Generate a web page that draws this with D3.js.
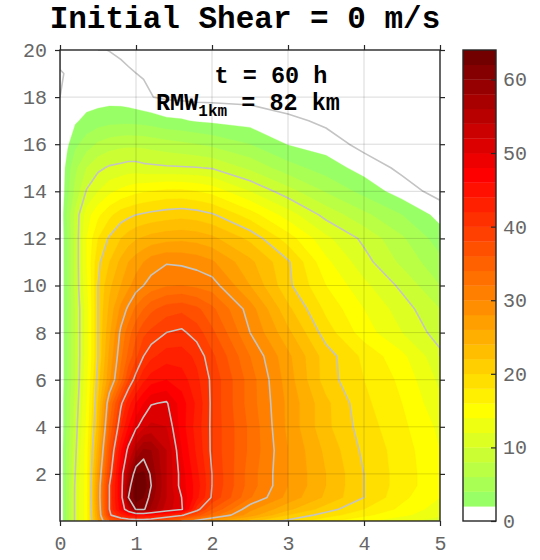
<!DOCTYPE html>
<html>
<head>
<meta charset="utf-8">
<script src="https://cdn.jsdelivr.net/npm/d3@7"></script>
<style>
  html, body { margin: 0; padding: 0; background: #fff; }
  svg { display: block; }
  text { font-family: "Liberation Mono", "Courier New", monospace; }
</style>
</head>
<body>
<div id="chart"></div>
<script>
// 半径节点 (r / RMW)
const radius = [0, 0.1, 0.2, 0.35, 0.5, 0.65, 0.8, 0.9, 1.0, 1.1, 1.2, 1.4, 1.6, 1.8, 2.0, 2.5, 3.0, 3.5, 4.0, 4.5, 5.0];

// 高度节点 (km)
const heightKm = [0, 0.25, 0.5, 1, 1.5, 2, 3, 4, 5, 6, 7, 8, 9, 10, 11, 12, 13, 14, 15, 16, 17, 18, 19, 20];

// 切向风 (m/s)，每行一个高度，按 radius 排列
const windRows = [
    [0, 5, 10.5, 15, 26, 35, 37, 37.5, 38, 38, 37.5, 35, 32, 29, 27, 22.5, 19.5, 16.5, 14.5, 12.5, 11],
    [0, 5, 10.5, 15, 27, 39.5, 43, 45, 46, 46, 45, 43, 40.5, 37, 33, 27, 22, 19, 16.5, 14.5, 12.5],
    [0, 5, 10.5, 15, 27.5, 40, 47, 53, 60.5, 60.5, 57.5, 53, 50.5, 41, 36, 28.5, 24.5, 21, 18, 15.5, 13],
    [0, 5, 10.5, 15, 28, 40, 48, 60, 63, 62, 59, 54, 50, 44.5, 39.7, 32.2, 27.3, 23.6, 20, 16.5, 14],
    [0, 5, 10.4, 15, 27.8, 40, 48, 58.5, 63.5, 63.5, 60, 54, 49, 45, 40, 33, 28, 24, 20, 17, 14.5],
    [0, 5, 10, 15, 27, 38.5, 48, 56, 62, 62.5, 59.5, 54, 49, 44.5, 40, 33, 28, 24, 20, 17, 14.5],
    [0, 5, 9.5, 15, 25, 36.5, 45.5, 51, 55.5, 58.5, 58, 54, 48, 43.5, 39.5, 33.5, 28, 23.5, 19.5, 17, 14],
    [0, 4.5, 9, 14.5, 23, 34, 42, 46, 49.5, 51.5, 52.5, 52, 47, 43, 39.5, 33.5, 27.5, 22.5, 19, 16.5, 13.5],
    [0, 4.5, 8.5, 14, 22, 32, 39.5, 43, 46, 48, 49.8, 50.3, 47, 43.5, 39.5, 33, 27.5, 22.5, 18.5, 16, 12.5],
    [0, 4, 8, 13.5, 21, 27.5, 33, 38, 41, 43.5, 45, 46, 45, 42.5, 39.5, 33, 27, 21, 18, 15.5, 11.5],
    [0, 4, 8, 13, 20, 26.5, 31.5, 34.5, 37.5, 40, 41.5, 43, 43, 41.5, 38.5, 32, 26.5, 21, 17.5, 14.5, 10.5],
    [0, 4, 8, 13, 20, 25.5, 30.5, 33, 35.5, 37.5, 38.5, 40, 40.5, 39, 36.5, 30, 24.5, 19, 15, 12, 9],
    [0, 4, 8, 13, 20, 24.5, 28.5, 30.5, 32.5, 34, 35.5, 37, 37.5, 36.5, 34.5, 29, 22.5, 17.5, 14, 11, 8],
    [0, 4, 8.5, 13.5, 20, 23.5, 26, 27.5, 29, 30, 30.8, 31.8, 32, 31.5, 31, 26, 20.5, 16, 12.5, 9.5, 6],
    [0, 4, 8.5, 14, 19.5, 22, 24.5, 26, 27, 28, 29, 29.8, 29.6, 29.2, 28.3, 24.5, 20.3, 14.5, 10.8, 7.5, 4.5],
    [0, 4, 8.5, 14, 18, 20.3, 22, 23, 23.8, 24.3, 24.8, 25.3, 25.5, 25.2, 24.5, 21.5, 17, 12.5, 9.5, 6.3, 3],
    [0, 4.5, 8.5, 13, 15.5, 17.5, 19, 19.5, 20, 20.3, 20.6, 21, 21.3, 21, 20.3, 17, 13, 9.3, 6.5, 4, 1.3],
    [0, 3.5, 6.5, 10.2, 12, 13.5, 14.5, 15, 15.5, 15.8, 16, 16.5, 16.5, 16, 15.3, 12, 8.8, 5.8, 3.3, 1, -0.8],
    [0, 3, 5.5, 8, 9.5, 10.3, 10.6, 10.9, 10.9, 10.6, 10.5, 10.3, 10.2, 10.1, 9.8, 7.5, 4.8, 3, 1.2, -0.5, -2],
    [0, 1.7, 3.5, 5, 6.3, 7, 7.4, 7.5, 7.5, 7.4, 7.2, 6.8, 6.4, 6, 5.5, 4, 1.9, 1.1, -0.7, -1.8, -3],
    [0, 0.8, 1.7, 2.6, 3.0, 3.3, 3.4, 3.4, 3.3, 3.2, 3.0, 2.4, 2.2, 1.8, 1.6, 1.2, 0.6, -0.5, -2, -3, -4],
    [0, 0.1, 0.5, 0.9, 1.1, 1.2, 1.1, 0.9, 0.6, 0.3, 0.05, -0.3, -0.4, -0.5, -0.5, -0.6, -1.5, -2.5, -3.5, -4.5, -5.5],
    [-0.1, 0.1, 0.4, 0.6, 0.6, 0.5, 0.3, 0.15, 0.01, -0.1, -0.25, -0.5, -0.8, -1, -1.2, -1.7, -2.5, -3.5, -4.5, -5.5, -6.5],
    [0.5, 0.4, 0.35, 0.25, 0.1, -0.03, -0.2, -0.35, -0.5, -0.6, -0.7, -0.9, -1.2, -1.4, -1.6, -2.2, -3, -4, -5, -6, -7]
];

// 填色等值线 (每 2 m/s 一档)，以及灰色等值线
const fillStep = 2;
const colorMax = 64;
const lineLevels = [0, 10, 20, 30, 40, 50, 60];

// 刻度
const xTicks = [0, 1, 2, 3, 4, 5];
const yTicks = [2, 4, 6, 8, 10, 12, 14, 16, 18, 20];
const cbarTicks = [0, 10, 20, 30, 40, 50, 60];

// 色标锚点 (色带序号 -> 颜色)
const cmapBands = [1, 7, 23, 31];
const cmapColors = ['#99ff66', '#ffff00', '#ff0000', '#730000'];

const titleText = 'Initial Shear = 0 m/s';

// 尺寸
const W = 540, H = 560;
const plot = { left: 60, right: 440, top: 50, bottom: 521 };
const cbar = { left: 463, right: 496 };

const svg = d3.select('#chart').append('svg')
    .attr('width', W)
    .attr('height', H);

svg.append('rect').attr('width', W).attr('height', H).attr('fill', '#fff');

const x = d3.scaleLinear().domain([0, 5]).range([plot.left, plot.right]);
const y = d3.scaleLinear().domain([0, 20]).range([plot.bottom, plot.top]);
const cy = d3.scaleLinear().domain([0, colorMax]).range([plot.bottom, plot.top]);

const cmap = d3.scaleLinear().domain(cmapBands).range(cmapColors).interpolate(d3.interpolateRgb);
const bandColor = k => (k === 0 ? '#ffffff' : cmap(k));

// 网格索引 -> 数据坐标 (非均匀网格)
const nx = radius.length, ny = heightKm.length;
const xIdx = d3.scaleLinear().domain(d3.range(nx)).range(radius).clamp(true);
const yIdx = d3.scaleLinear().domain(d3.range(ny)).range(heightKm).clamp(true);
const toPx = p => [x(xIdx(p[0] - 0.5)), y(yIdx(p[1] - 0.5))];

const values = windRows.flat();
const contourGen = d3.contours().size([nx, ny]).smooth(true);

svg.append('defs').append('clipPath').attr('id', 'plot-clip')
    .append('rect')
    .attr('x', plot.left).attr('y', plot.top)
    .attr('width', plot.right - plot.left)
    .attr('height', plot.bottom - plot.top);

const fmt = p => p[0].toFixed(2) + ',' + p[1].toFixed(2);

/**
 * 面: 多边形 -> path
 */
function areaPath(geo) {
    return geo.coordinates.map(poly =>
        poly.map(ring => 'M' + ring.map(p => fmt(toPx(p))).join('L') + 'Z').join('')
    ).join('');
}

/**
 * 线: 去掉沿网格边界的线段
 */
function linePath(geo) {
    const onEdge = (a, b) =>
        (a[0] === 0 && b[0] === 0) || (a[0] === nx && b[0] === nx) ||
        (a[1] === 0 && b[1] === 0) || (a[1] === ny && b[1] === ny);
    let d = '';
    geo.coordinates.forEach(poly => poly.forEach(ring => {
        let open = false;
        for (let i = 0; i < ring.length - 1; i++) {
            const a = ring[i], b = ring[i + 1];
            if (onEdge(a, b)) { open = false; continue; }
            if (!open) { d += 'M' + fmt(toPx(a)); open = true; }
            d += 'L' + fmt(toPx(b));
        }
    }));
    return d;
}

const gPlot = svg.append('g').attr('clip-path', 'url(#plot-clip)');

// 填色
for (let k = 1; k < colorMax / fillStep; k++) {
    const geo = contourGen.contour(values, k * fillStep);
    gPlot.append('path')
        .attr('d', areaPath(geo))
        .attr('fill', bandColor(k))
        .attr('fill-rule', 'evenodd')
        .attr('stroke', bandColor(k))
        .attr('stroke-width', 0.3);
}

// 灰色等值线
lineLevels.forEach(level => {
    gPlot.append('path')
        .attr('d', linePath(contourGen.contour(values, level)))
        .attr('fill', 'none')
        .attr('stroke', '#c4c4c4')
        .attr('stroke-width', 1.6)
        .attr('stroke-linejoin', 'round');
});

// 网格
const gGrid = svg.append('g')
    .attr('stroke', '#000')
    .attr('stroke-opacity', 0.15)
    .attr('stroke-width', 1);
xTicks.filter(v => v > 0 && v < 5).forEach(v => {
    gGrid.append('line')
        .attr('x1', x(v)).attr('x2', x(v))
        .attr('y1', plot.top).attr('y2', plot.bottom);
});
yTicks.filter(v => v < 20).forEach(v => {
    gGrid.append('line')
        .attr('x1', plot.left).attr('x2', plot.right)
        .attr('y1', y(v)).attr('y2', y(v));
});

// 坐标轴
const axisColor = '#262626';
const labelColor = '#666';
const tickFont = 20;

function styleAxis(g) {
    g.select('.domain').remove();
    g.selectAll('.tick line').attr('stroke', axisColor).attr('stroke-width', 1.2);
    g.selectAll('.tick text')
        .attr('fill', labelColor)
        .attr('font-size', tickFont)
        .attr('font-family', '"Liberation Mono", "Courier New", monospace');
}

svg.append('g')
    .attr('transform', `translate(0,${plot.bottom})`)
    .call(d3.axisBottom(x).tickValues(xTicks).tickSize(5).tickPadding(10).tickFormat(d3.format('d')))
    .call(styleAxis);

svg.append('g')
    .attr('transform', `translate(0,${plot.top})`)
    .call(d3.axisTop(x).tickValues(xTicks).tickSize(5).tickFormat(''))
    .call(styleAxis);

svg.append('g')
    .attr('transform', `translate(${plot.left},0)`)
    .call(d3.axisLeft(y).tickValues(yTicks).tickSize(5).tickPadding(8).tickFormat(d3.format('d')))
    .call(styleAxis);

svg.append('g')
    .attr('transform', `translate(${plot.right},0)`)
    .call(d3.axisRight(y).tickValues(yTicks).tickSize(5).tickFormat(''))
    .call(styleAxis);

svg.append('rect')
    .attr('x', plot.left).attr('y', plot.top)
    .attr('width', plot.right - plot.left)
    .attr('height', plot.bottom - plot.top)
    .attr('fill', 'none')
    .attr('stroke', axisColor)
    .attr('stroke-width', 1.4);

// 色标
const gBar = svg.append('g');
for (let k = 0; k < colorMax / fillStep; k++) {
    gBar.append('rect')
        .attr('x', cbar.left)
        .attr('y', cy((k + 1) * fillStep))
        .attr('width', cbar.right - cbar.left)
        .attr('height', cy(k * fillStep) - cy((k + 1) * fillStep) + 0.3)
        .attr('fill', bandColor(k));
}
svg.append('g')
    .attr('transform', `translate(${cbar.right},0)`)
    .call(d3.axisRight(cy).tickValues(cbarTicks).tickSize(-5).tickPadding(7))
    .call(styleAxis);
gBar.append('rect')
    .attr('x', cbar.left).attr('y', plot.top)
    .attr('width', cbar.right - cbar.left)
    .attr('height', plot.bottom - plot.top)
    .attr('fill', 'none')
    .attr('stroke', axisColor)
    .attr('stroke-width', 1.4);

// 标题
svg.append('text')
    .attr('x', 245).attr('y', 28)
    .attr('text-anchor', 'middle')
    .attr('font-size', 31)
    .attr('font-weight', 'bold')
    .attr('fill', '#000')
    .text(titleText);

// 注释
svg.append('text')
    .attr('x', 214.5).attr('y', 83)
    .attr('font-size', 23.5)
    .attr('font-weight', 'bold')
    .text('t = 60 h');

const rmw = svg.append('text')
    .attr('x', 156).attr('y', 110)
    .attr('font-size', 23.5)
    .attr('font-weight', 'bold');
rmw.append('tspan').text('RMW');
rmw.append('tspan').attr('font-size', 16).attr('dy', 6).text('1km');
rmw.append('tspan').attr('dy', -6).text(' = 82 km');
</script>
</body>
</html>
